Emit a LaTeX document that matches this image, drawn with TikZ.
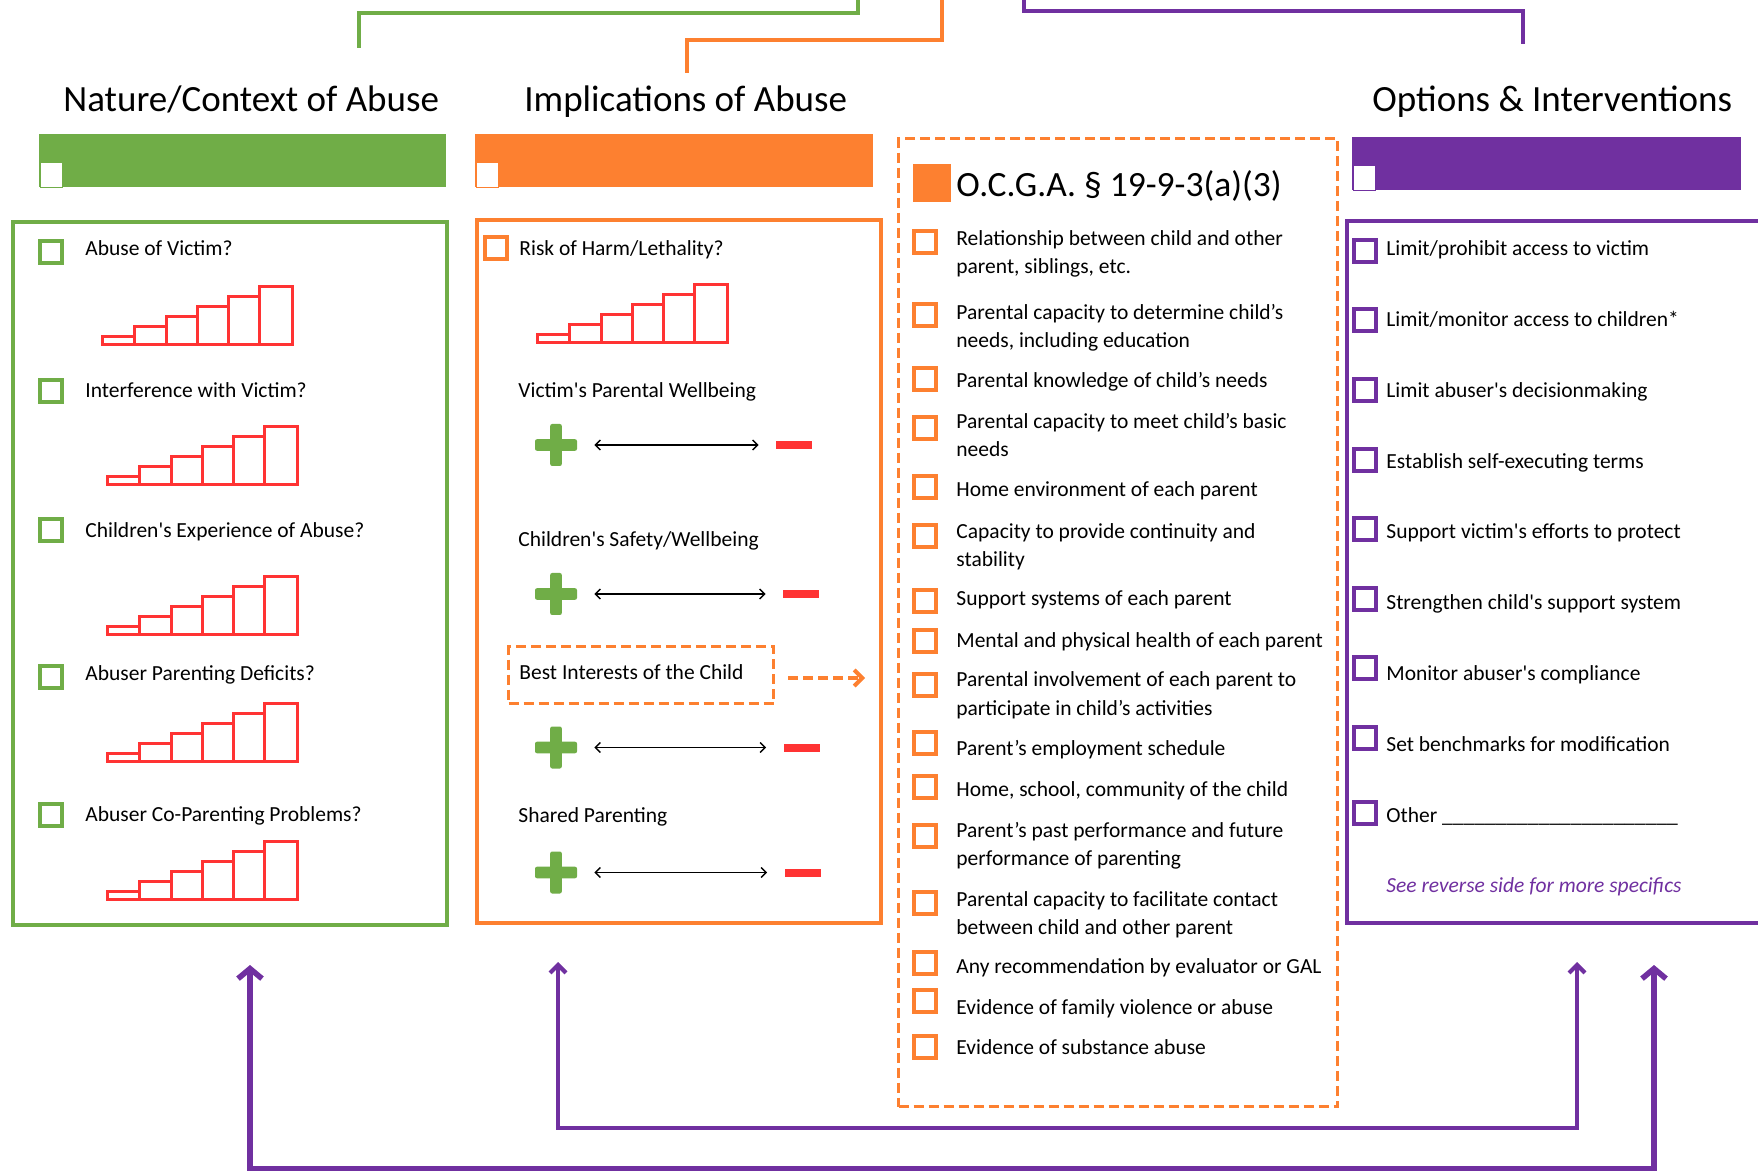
\documentclass[tikz,border=0pt]{standalone}
\usepackage{fontspec}
\setmainfont{Carlito}[Ligatures=TeXOff]
\usepackage{tikz}
\usetikzlibrary{positioning}
\usetikzlibrary{calc}
\usetikzlibrary{arrows.meta}

\definecolor{leaf}{RGB}{112,173,71}
\definecolor{tangerine}{RGB}{253,128,48}
\definecolor{plum}{RGB}{112,48,160}
\definecolor{alarm}{RGB}{255,51,51}

\tikzstyle{hdr} = [inner sep = 0pt, anchor = base west, font = \fontsize{18.5}{22}\selectfont]
\tikzstyle{strip} = [inner sep = 0pt, anchor = north west, minimum height = 26.5pt]
\tikzstyle{notch} = [draw, line width = 0.4pt, fill = white, inner sep = 0pt, minimum width = 11pt, minimum height = 12.5pt, anchor = south west]
\tikzstyle{pane} = [draw, line width = 2pt, inner sep = 0pt, anchor = north west]
\tikzstyle{nbox} = [draw, line width = 2pt, fill = white, inner sep = 0pt, minimum size = 11pt]
\tikzstyle{entry} = [inner sep = 0pt, anchor = base west, align = left, font = \fontsize{10.75}{14}\selectfont]
\tikzstyle{stairs} = [draw = alarm, line width = 1.5pt]
\tikzstyle{plusmark} = [minimum size = 21pt, inner sep = 0pt, fill = white, path picture = {
	\fill[leaf, rounded corners = 1pt] ([yshift = -2.9pt]path picture bounding box.west) rectangle ([yshift = 2.9pt]path picture bounding box.east);
	\fill[leaf, rounded corners = 1pt] ([xshift = -2.9pt]path picture bounding box.south) rectangle ([xshift = 2.9pt]path picture bounding box.north);}]
\tikzstyle{minusmark} = [fill = alarm, minimum width = 18pt, minimum height = 4pt, inner sep = 0pt]
\tikzstyle{span} = [line width = 0.7pt, {Straight Barb[length = 2.5pt, width = 5pt]}-{Straight Barb[length = 2.5pt, width = 5pt]}, shorten <=8.5pt, shorten >=8.5pt]
\tikzstyle{wire} = [line width = 1.75pt]
\tikzstyle{dashbox} = [draw = tangerine, line width = 1.6pt, dash pattern = on 5pt off 2.5pt]
\tikzstyle{guide} = [draw = tangerine, line width = 2pt, dash pattern = on 5pt off 2.5pt, -{Straight Barb[length = 4pt, width = 8pt]}]
\tikzstyle{backwide} = [draw = plum, line width = 2.8pt, {Straight Barb[length = 5pt, width = 12pt]}-{Straight Barb[length = 5pt, width = 12pt]}]
\tikzstyle{backthin} = [draw = plum, line width = 2.1pt, {Straight Barb[length = 4pt, width = 8pt]}-{Straight Barb[length = 4pt, width = 8pt]}]

\begin{document}
\begin{tikzpicture}[x = 0.5pt, y = -0.5pt]
	
		\useasboundingbox (0,0) rectangle (1758,1171);
		\clip (0,0) rectangle (1758,1171);
		
		% Lines from the top edge
		\coordinate (gtop) at (858,0);
		\coordinate (gfoot) at (359,48);
		\coordinate (otop) at (942,0);
		\coordinate (ofoot) at (687,73);
		\coordinate (ptop) at (1024,0);
		\coordinate (pfoot) at (1523,44);
		\draw[wire, leaf] (gtop) -- ++(0,13) -| (gfoot);
		\draw[wire, tangerine] (otop) -- ++(0,40) -| (ofoot);
		\draw[wire, plum] (ptop) -- ++(0,11) -| (pfoot);
		
		% Headings
		\node[hdr] (nhead) at (63,112) {Nature/Context of Abuse};
		\node[hdr] (ihead) at (524,112) {Implications of Abuse};
		\node[hdr] (ohead) at (1372,112) {Options \& Interventions};
		
		% Colour strips
		\node[strip, fill = leaf, minimum width = 203.5pt] (nstrip) at (39,134) {};
		\node[notch, draw = leaf] (nnotch) at ([xshift = 0.5pt]nstrip.south west) {};
		\node[strip, fill = tangerine, minimum width = 199pt] (istrip) at (475,134) {};
		\node[notch, draw = tangerine] (inotch) at ([xshift = 0.5pt]istrip.south west) {};
		\node[strip, fill = plum, minimum width = 194.5pt] (ostrip) at (1352,137) {};
		\node[notch, draw = plum] (onotch) at ([xshift = 0.5pt]ostrip.south west) {};
		
		% Panels
		\node[pane, draw = leaf, minimum width = 217pt, minimum height = 351.5pt] (npane) at (11,220) {};
		\node[pane, draw = tangerine, minimum width = 202pt, minimum height = 351.5pt] (ipane) at (475,218) {};
		\node[pane, dashbox, minimum width = 219.5pt, minimum height = 484pt] (lpane) at (897,137) {};
		\node[pane, draw = plum, minimum width = 215pt, minimum height = 351pt] (opane) at (1345,219) {};
		
		% Nature/Context of Abuse
		\node[nbox, draw = leaf] (nc1) at (51,252) {};
		\node[entry] (nt1) at (85,256) {Abuse of Victim?};
		\draw[stairs, shift = {(102.5,344.5)}] (0,0) rectangle (31.5,-8) (31.5,0) rectangle (63.5,-18) (63.5,0) rectangle (94.5,-28) (94.5,0) rectangle (125.5,-38) (125.5,0) rectangle (157,-48) (157,0) rectangle (190,-58);
		\node[nbox, draw = leaf] (nc2) at (51,391) {};
		\node[entry] (nt2) at (85,398) {Interference with Victim?};
		\draw[stairs, shift = {(107.5,484.5)}] (0,0) rectangle (31.5,-8) (31.5,0) rectangle (63.5,-18) (63.5,0) rectangle (94.5,-28) (94.5,0) rectangle (125.5,-38) (125.5,0) rectangle (157,-48) (157,0) rectangle (190,-58);
		\node[nbox, draw = leaf] (nc3) at (51,530) {};
		\node[entry] (nt3) at (85,538) {Children's Experience of Abuse?};
		\draw[stairs, shift = {(107.5,634.5)}] (0,0) rectangle (31.5,-8) (31.5,0) rectangle (63.5,-18) (63.5,0) rectangle (94.5,-28) (94.5,0) rectangle (125.5,-38) (125.5,0) rectangle (157,-48) (157,0) rectangle (190,-58);
		\node[nbox, draw = leaf] (nc4) at (51,677) {};
		\node[entry] (nt4) at (85,681) {Abuser Parenting Deficits?};
		\draw[stairs, shift = {(107.5,761.5)}] (0,0) rectangle (31.5,-8) (31.5,0) rectangle (63.5,-18) (63.5,0) rectangle (94.5,-28) (94.5,0) rectangle (125.5,-38) (125.5,0) rectangle (157,-48) (157,0) rectangle (190,-58);
		\node[nbox, draw = leaf] (nc5) at (51,815) {};
		\node[entry] (nt5) at (85,821) {Abuser Co-Parenting Problems?};
		\draw[stairs, shift = {(107.5,899.5)}] (0,0) rectangle (31.5,-8) (31.5,0) rectangle (63.5,-18) (63.5,0) rectangle (94.5,-28) (94.5,0) rectangle (125.5,-38) (125.5,0) rectangle (157,-48) (157,0) rectangle (190,-58);
		
		% Implications of Abuse
		\node[nbox, draw = tangerine] (ic1) at (496,248.5) {};
		\node[entry] (it1) at (519,256) {Risk of Harm/Lethality?};
		\draw[stairs, shift = {(537.5,342.5)}] (0,0) rectangle (31.5,-8) (31.5,0) rectangle (63.5,-18) (63.5,0) rectangle (94.5,-28) (94.5,0) rectangle (125.5,-38) (125.5,0) rectangle (157,-48) (157,0) rectangle (190,-58);
		\node[entry] (it2) at (518,398) {Victim's Parental Wellbeing};
		\node[plusmark] (ip1) at (556,445) {};
		\node[minusmark] (im1) at (794,445) {};
		\node[entry] (it3) at (518,547) {Children's Safety/Wellbeing};
		\node[plusmark] (ip2) at (556,594) {};
		\node[minusmark] (im2) at (801,594) {};
		\node[dashbox, anchor = north west, inner sep = 0pt, minimum width = 132.5pt, minimum height = 28.5pt] (best) at (507,645) {};
		\node[entry] (bestname) at (519,680) {Best Interests of the Child};
		\coordinate (bestend) at (865,678);
		\node[plusmark] (ip3) at (556,747.5) {};
		\node[minusmark] (im3) at (801.5,747.5) {};
		\node[entry] (it4) at (518,822) {Shared Parenting};
		\node[plusmark] (ip4) at (556,872.5) {};
		\node[minusmark] (im4) at (802.5,872.5) {};
		
		% O.C.G.A. list
		\node[fill = tangerine, inner sep = 0pt, minimum size = 19pt, anchor = north west] (lmark) at (913,164) {};
		\node[entry, font = \fontsize{17.75}{21}\selectfont] (lhead) at (956,197) {O.C.G.A. § 19-9-3(a)(3)};
		\node[nbox, draw = tangerine] (lc1) at (925,242.5) {};
		\node[entry] (lt1) at (956,274) {Relationship between child and other\\parent, siblings, etc.};
		\node[nbox, draw = tangerine] (lc2) at (925,315) {};
		\node[entry] (lt2) at (956,348) {Parental capacity to determine child’s\\needs, including education};
		\node[nbox, draw = tangerine] (lc3) at (925,379) {};
		\node[entry] (lt3) at (956,388) {Parental knowledge of child’s needs};
		\node[nbox, draw = tangerine] (lc4) at (925,428) {};
		\node[entry] (lt4) at (956,457) {Parental capacity to meet child’s basic\\needs};
		\node[nbox, draw = tangerine] (lc5) at (925,487) {};
		\node[entry] (lt5) at (956,497) {Home environment of each parent};
		\node[nbox, draw = tangerine] (lc6) at (925,536) {};
		\node[entry] (lt6) at (956,567) {Capacity to provide continuity and\\stability};
		\node[nbox, draw = tangerine] (lc7) at (925,601) {};
		\node[entry] (lt7) at (956,606) {Support systems of each parent};
		\node[nbox, draw = tangerine] (lc8) at (925,641) {};
		\node[entry] (lt8) at (956,647) {Mental and physical health of each parent};
		\node[nbox, draw = tangerine] (lc9) at (925,685) {};
		\node[entry] (lt9) at (956,715) {Parental involvement of each parent to\\participate in child’s activities};
		\node[nbox, draw = tangerine] (lc10) at (925,743) {};
		\node[entry] (lt10) at (956,755) {Parent’s employment schedule};
		\node[nbox, draw = tangerine] (lc11) at (925,787) {};
		\node[entry] (lt11) at (956,796) {Home, school, community of the child};
		\node[nbox, draw = tangerine] (lc12) at (925,836) {};
		\node[entry] (lt12) at (956,865) {Parent’s past performance and future\\performance of parenting};
		\node[nbox, draw = tangerine] (lc13) at (925,903) {};
		\node[entry] (lt13) at (956,934) {Parental capacity to facilitate contact\\between child and other parent};
		\node[nbox, draw = tangerine] (lc14) at (925,963) {};
		\node[entry] (lt14) at (956,973) {Any recommendation by evaluator or GAL};
		\node[nbox, draw = tangerine] (lc15) at (925,1001) {};
		\node[entry] (lt15) at (956,1014) {Evidence of family violence or abuse};
		\node[nbox, draw = tangerine] (lc16) at (925,1047) {};
		\node[entry] (lt16) at (956,1054) {Evidence of substance abuse};
		
		% Options & Interventions
		\node[nbox, draw = plum] (oc1) at (1365,251) {};
		\node[entry] (ot1) at (1386,256) {Limit/prohibit access to victim};
		\node[nbox, draw = plum] (oc2) at (1365,320) {};
		\node[entry] (ot2) at (1386,327) {Limit/monitor access to children*};
		\node[nbox, draw = plum] (oc3) at (1365,390) {};
		\node[entry] (ot3) at (1386,398) {Limit abuser's decisionmaking};
		\node[nbox, draw = plum] (oc4) at (1365,460) {};
		\node[entry] (ot4) at (1386,469) {Establish self-executing terms};
		\node[nbox, draw = plum] (oc5) at (1365,529) {};
		\node[entry] (ot5) at (1386,539) {Support victim's efforts to protect};
		\node[nbox, draw = plum] (oc6) at (1365,599) {};
		\node[entry] (ot6) at (1386,610) {Strengthen child's support system};
		\node[nbox, draw = plum] (oc7) at (1365,668) {};
		\node[entry] (ot7) at (1386,681) {Monitor abuser's compliance};
		\node[nbox, draw = plum] (oc8) at (1365,738) {};
		\node[entry] (ot8) at (1386,751) {Set benchmarks for modification};
		\node[nbox, draw = plum] (oc9) at (1365,813) {};
		\node[entry] (ot9) at (1386,822) {Other \_\_\_\_\_\_\_\_\_\_\_\_\_\_\_\_\_\_\_\_\_\_};
		\node[entry, text = plum, font = \fontsize{10.75}{14}\selectfont\itshape] (onote) at (1386,892) {See reverse side for more specifics};
		
		% Connect all nodes defined above
		\draw[span] (ip1) -- (im1);
		\draw[span] (ip2) -- (im2);
		\draw[span] (ip3) -- (im3);
		\draw[span] (ip4) -- (im4);
		\draw[guide] ([xshift = 6.5pt]best.east |- bestend) -- (bestend);
		
		% Lines back from the options
		\coordinate (nup) at (250,965);
		\coordinate (oup) at (1654,965);
		\coordinate (iup) at (558,962);
		\coordinate (oupb) at (1577,962);
		\draw[backwide] (nup) -- ++(0,204) -| (oup);
		\draw[backthin] (iup) -- ++(0,166) -| (oupb);
		
	\end{tikzpicture}
\end{document}
